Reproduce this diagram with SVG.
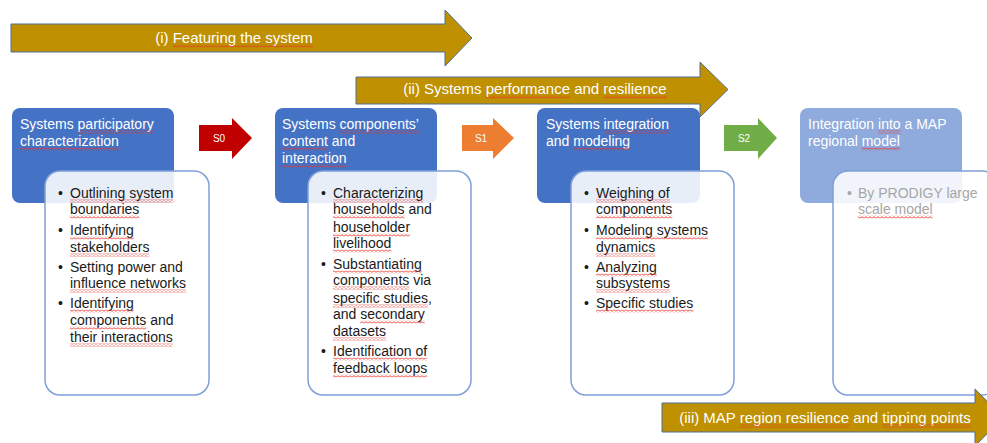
<svg xmlns="http://www.w3.org/2000/svg" width="987" height="443" viewBox="0 0 987 443">
<defs>
<pattern id="wave" patternUnits="userSpaceOnUse" width="4" height="3"><path d="M0,2.3 L2,0.7 L4,2.3" fill="none" stroke="#e8332a" stroke-width="0.9"/></pattern>
</defs>
<style>
.gold{fill:#bf9000;stroke:#4f6f96;stroke-width:1}
.atxt{font-family:"Liberation Sans",Arial,sans-serif;font-size:15px;fill:#ffffff;text-anchor:middle}
.hdr{font-family:"Liberation Sans",Arial,sans-serif;font-size:14px;fill:#ffffff}
.bl{font-family:"Liberation Sans",Arial,sans-serif;font-size:14px;fill:#1a1a1a}
.gr{fill:#a6a6a6}
.blue{fill:#4472c4}
.lblue{fill:#8faadc}
.card{fill:#ffffff;fill-opacity:0.88;stroke:#7f9fd8;stroke-width:1.5}
.stxt{font-family:"Liberation Sans",Arial,sans-serif;font-size:10px;fill:#ffffff;text-anchor:middle}
.wv{fill:url(#wave)}
</style>
<g id="connectors">
<g id="phase-i"><polygon class="gold" points="11,24 445,24 445,10 472,38 445,66 445,52 11,52"/><text class="atxt" x="234" y="43">(i) Featuring the system</text><rect class="wv" x="172.7" y="44.5" width="140.1" height="3"/></g>
<g id="phase-ii"><polygon class="gold" points="356,77 700,77 700,62 728,89.5 700,117 700,104 356,104"/><text class="atxt" x="535" y="94">(ii) Systems performance and resilience</text><rect class="wv" x="485.8" y="95.5" width="84.2" height="3"/><rect class="wv" x="603.4" y="95.5" width="63.3" height="3"/></g>
<g id="s0"><polygon fill="#c00000" points="199,125 232,125 232,118 252,138 232,159 232,151 199,151"/><text class="stxt" x="219" y="142">S0</text></g>
<g id="s1"><polygon fill="#ed7d31" points="462,125 493,125 493,118 514,138 493,159 493,151 462,151"/><text class="stxt" x="481" y="142">S1</text></g>
<g id="s2"><polygon fill="#70ad47" points="724,125 758,125 758,118 777,138 758,159 758,151 724,151"/><text class="stxt" x="744" y="142">S2</text></g>
</g>
<g id="node1">
<rect class="blue" x="12" y="108" width="162" height="95" rx="8"/>
<text class="hdr" x="20" y="129">Systems participatory</text>
<text class="hdr" x="20" y="146">characterization</text>
<rect class="wv" x="77.6" y="130.5" width="76.2" height="3"/>
<rect class="wv" x="20" y="147.5" width="98.8" height="3"/>
<rect class="card" x="45" y="171" width="164" height="224" rx="15"/>
<text class="bl" x="58" y="198">•</text><text class="bl" x="70" y="198">Outlining system</text>
<text class="bl" x="70" y="214">boundaries</text>
<text class="bl" x="58" y="235">•</text><text class="bl" x="70" y="235">Identifying</text>
<text class="bl" x="70" y="252">stakeholders</text>
<text class="bl" x="58" y="272">•</text><text class="bl" x="70" y="272">Setting power and</text>
<text class="bl" x="70" y="288">influence networks</text>
<text class="bl" x="58" y="308">•</text><text class="bl" x="70" y="308">Identifying</text>
<text class="bl" x="70" y="325">components and</text>
<text class="bl" x="70" y="342">their interactions</text>
<rect class="wv" x="70" y="199.5" width="103.5" height="3"/>
<rect class="wv" x="70" y="215.5" width="69.3" height="3"/>
<rect class="wv" x="70" y="236.5" width="63.8" height="3"/>
<rect class="wv" x="70" y="253.5" width="79.4" height="3"/>
<rect class="wv" x="70" y="289.5" width="115.9" height="3"/>
<rect class="wv" x="70" y="309.5" width="63.8" height="3"/>
<rect class="wv" x="70" y="326.5" width="76.3" height="3"/>
<rect class="wv" x="70" y="343.5" width="102.7" height="3"/>
</g>
<g id="node2">
<rect class="blue" x="275" y="108" width="162" height="95" rx="8"/>
<text class="hdr" x="282" y="129">Systems components’</text>
<text class="hdr" x="282" y="146">content and</text>
<text class="hdr" x="282" y="163">interaction</text>
<rect class="wv" x="339.6" y="130.5" width="79.4" height="3"/>
<rect class="wv" x="282" y="147.5" width="45.9" height="3"/>
<rect class="wv" x="282" y="164.5" width="64.6" height="3"/>
<rect class="card" x="308" y="171" width="163" height="224" rx="15"/>
<text class="bl" x="321" y="198">•</text><text class="bl" x="333" y="198">Characterizing</text>
<text class="bl" x="333" y="214">households and</text>
<text class="bl" x="333" y="232">householder</text>
<text class="bl" x="333" y="248">livelihood</text>
<text class="bl" x="321" y="269">•</text><text class="bl" x="333" y="269">Substantiating</text>
<text class="bl" x="333" y="285">components via</text>
<text class="bl" x="333" y="303">specific studies,</text>
<text class="bl" x="333" y="319">and secondary</text>
<text class="bl" x="333" y="336">datasets</text>
<text class="bl" x="321" y="356">•</text><text class="bl" x="333" y="356">Identification of</text>
<text class="bl" x="333" y="373">feedback loops</text>
<rect class="wv" x="333" y="199.5" width="90.2" height="3"/>
<rect class="wv" x="333" y="215.5" width="71.6" height="3"/>
<rect class="wv" x="333" y="233.5" width="77" height="3"/>
<rect class="wv" x="333" y="249.5" width="58.4" height="3"/>
<rect class="wv" x="333" y="270.5" width="88.7" height="3"/>
<rect class="wv" x="333" y="286.5" width="76.3" height="3"/>
<rect class="wv" x="333" y="304.5" width="94.9" height="3"/>
<rect class="wv" x="360.2" y="320.5" width="64.6" height="3"/>
<rect class="wv" x="333" y="337.5" width="52.9" height="3"/>
<rect class="wv" x="333" y="357.5" width="94.2" height="3"/>
<rect class="wv" x="333" y="374.5" width="94.2" height="3"/>
</g>
<g id="node3">
<rect class="blue" x="537" y="108" width="163" height="95" rx="8"/>
<text class="hdr" x="546" y="129">Systems integration</text>
<text class="hdr" x="546" y="146">and modeling</text>
<rect class="wv" x="603.6" y="130.5" width="65.4" height="3"/>
<rect class="wv" x="573.2" y="147.5" width="56.8" height="3"/>
<rect class="card" x="571" y="171" width="163" height="224" rx="15"/>
<text class="bl" x="584" y="198">•</text><text class="bl" x="596" y="198">Weighing of</text>
<text class="bl" x="596" y="214">components</text>
<text class="bl" x="584" y="235">•</text><text class="bl" x="596" y="235">Modeling systems</text>
<text class="bl" x="596" y="252">dynamics</text>
<text class="bl" x="584" y="272">•</text><text class="bl" x="596" y="272">Analyzing</text>
<text class="bl" x="596" y="288">subsystems</text>
<text class="bl" x="584" y="308">•</text><text class="bl" x="596" y="308">Specific studies</text>
<rect class="wv" x="596" y="199.5" width="73.9" height="3"/>
<rect class="wv" x="596" y="215.5" width="76.3" height="3"/>
<rect class="wv" x="596" y="236.5" width="112" height="3"/>
<rect class="wv" x="596" y="253.5" width="59.1" height="3"/>
<rect class="wv" x="596" y="273.5" width="60.7" height="3"/>
<rect class="wv" x="596" y="289.5" width="73.9" height="3"/>
<rect class="wv" x="596" y="309.5" width="97.3" height="3"/>
</g>
<g id="node4">
<rect class="lblue" x="800" y="108" width="162" height="95" rx="8"/>
<text class="hdr" x="808" y="129">Integration into a MAP</text>
<text class="hdr" x="808" y="146">regional model</text>
<rect class="wv" x="878" y="130.5" width="22.6" height="3"/>
<rect class="wv" x="861.7" y="147.5" width="38.1" height="3"/>
<rect class="card" x="833" y="171" width="164" height="224" rx="15"/>
<text class="bl gr" x="847" y="198">•</text><text class="bl gr" x="858" y="198">By PRODIGY large</text>
<text class="bl gr" x="858" y="214">scale model</text>
<rect class="wv" x="858" y="215.5" width="74.7" height="3"/>
</g>
<g id="phase-iii"><polygon class="gold" points="662,403 975,403 975,389 1003,417.5 975,446 975,432 662,432"/><text class="atxt" x="825" y="423">(iii) MAP region resilience and tipping points</text><rect class="wv" x="739.9" y="424.5" width="109.2" height="3"/><rect class="wv" x="882.5" y="424.5" width="88.4" height="3"/></g>
</svg>
